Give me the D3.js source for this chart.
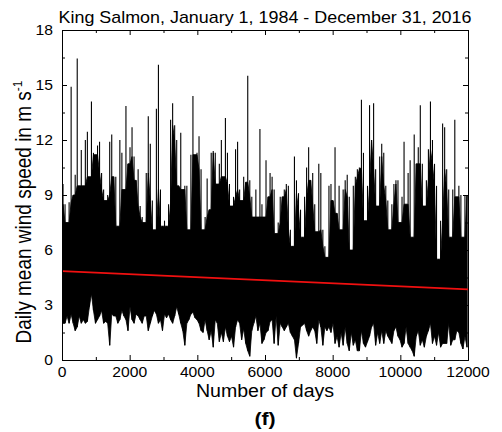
<!DOCTYPE html>
<html><head><meta charset="utf-8">
<script src="https://cdn.jsdelivr.net/npm/d3@7"></script>
<style>
body{margin:0;background:#fff}
text{font-family:"Liberation Sans",Arial,Helvetica,sans-serif;fill:#000}
</style>
</head><body>
<svg id="chart" width="502" height="432"></svg>
<script>
// ---- data (60-day bins: highest and lowest daily mean in each bin) ----
const binDays = d3.range(30, 12000, 60); // bin centres, number of days
const highValues = [
 9.6, 8.5, 7.5, 8.6, 14.9, 9.0, 10.1, 16.45, 9.5, 11.45,
 9.5, 12, 12.45, 10, 14.1, 11.3, 11.2, 11.7, 11.9, 10.2,
 9.3, 8.7, 9, 11.9, 12.3, 10, 10, 7.3, 12, 11.3,
 9.3, 13.85, 10.7, 11.6, 12.7, 11.1, 9.8, 10.4, 8.4, 7.8,
 7.5, 10.2, 13.3, 11.8, 8.7, 7.1, 13.7, 16.1, 9.3, 7.3,
 7.6, 7.3, 8.5, 13.1, 14, 12.8, 12, 9.5, 12.4, 9.3,
 9.5, 9.5, 7.1, 11.2, 14.4, 11.2, 11.3, 12.2, 10.4, 7.1,
 7.8, 9.9, 8.2, 11.3, 11.4, 11.3, 9.6, 10.7, 12, 10,
 13.2, 11.3, 9.6, 8.4, 8.9, 11.5, 11.9, 9.3, 8.7, 10,
 9.7, 15.5, 9.8, 8.9, 7.8, 9.3, 7.8, 12.6, 8.5, 7.8,
 10.9, 8.9, 10.2, 10, 9.3, 6.9, 7.5, 8.9, 8.9, 9.3,
 9.6, 9.5, 7.1, 6.2, 11.1, 9.8, 9.1, 8.2, 6.7, 8.9,
 10.5, 11.6, 9.8, 10.2, 8.5, 7, 10.7, 10.2, 7.1, 6.2,
 5.6, 9.5, 9.6, 8.7, 11.6, 8, 9.5, 7.1, 9.3, 9.8,
 10.1, 8.9, 6, 9.5, 10, 10.4, 10.5, 14.2, 11.3, 7.6,
 9.5, 13.9, 12, 14, 10.4, 8.4, 11.1, 11.8, 11.3, 9.5,
 8.7, 7.1, 8.5, 9.6, 9.8, 9.8, 7.5, 8.9, 11.9, 8.5,
 10.2, 10.9, 6.7, 12.3, 10.7, 11.6, 13.9, 10.7, 8.4, 9.8,
 11.5, 14.1, 12, 10.7, 9.5, 5.5, 7.6, 12.9, 12.7, 10.4,
 9.3, 6.7, 9.3, 13.1, 8.9, 9.5, 9, 6.7, 9, 9
];
const lowValues = [
 2.0, 2.0, 2.4, 2.0, 2.5, 2.0, 1.6, 1.8, 2.4, 2.0,
 2.2, 2.0, 2.1, 2.9, 3.6, 2.7, 2.0, 2.2, 2.4, 2.7,
 2.0, 2.1, 2.0, 0.8, 2.5, 2.4, 2.4, 2.0, 2.2, 2.7,
 2.4, 2.2, 1.6, 2.9, 2.2, 2.0, 2.5, 2.4, 2.2, 2.0,
 2.4, 2.4, 1.6, 2.0, 2.4, 2.7, 2.5, 2.0, 2.2, 1.6,
 2.5, 2.3, 2.5, 2.2, 2.0, 2.4, 2.9, 2.5, 2.0, 1.6,
 0.8, 2.0, 2.2, 2.5, 2.6, 2.3, 2.2, 2.0, 1.6, 1.5,
 2.2, 1.6, 1.1, 1.6, 0.7, 2.2, 2.0, 1.0, 1.5, 1.0,
 1.8, 1.3, 1.0, 1.3, 0.7, 1.8, 2.2, 2.0, 1.1, 1.7,
 0.9, 0.5, 0.2, 1.6, 2.0, 2.4, 1.6, 2.0, 0.9, 1.1,
 1.5, 1.6, 2.1, 2.2, 0.9, 2.4, 0.8, 2.0, 1.8, 1.6,
 1.8, 2.0, 1.5, 1.3, 1.1, 0.1, 0.9, 1.8, 1.9, 2.0,
 1.6, 1.3, 1.6, 1.8, 1.6, 0.9, 2.2, 1.8, 0.8, 1.8,
 1.6, 1.8, 1.5, 2.0, 0.9, 1.3, 0.7, 1.5, 0.8, 1.8,
 0.9, 0.5, 1.5, 0.8, 1.1, 0.5, 0.5, 1.6, 0.9, 0.7,
 1.0, 1.3, 1.8, 2.0, 0.8, 1.5, 0.9, 1.6, 0.9, 1.6,
 1.3, 1.1, 0.9, 1.6, 1.8, 1.3, 1.1, 0.7, 0.9, 1.8,
 0.9, 0.7, 0.5, 0.2, 1.3, 1.6, 0.8, 1.1, 0.7, 1.3,
 1.6, 2.0, 0.9, 1.3, 0.8, 1.5, 0.7, 0.9, 0.9, 0.9,
 2.0, 0.8, 1.1, 1.1, 1.6, 1.5, 0.9, 0.6, 1.3, 0.7
];
const trendDays = [0, 12000];
const trendValues = [4.85, 3.85];
const xTickValues = [0, 2000, 4000, 6000, 8000, 10000, 12000];
const xMinorTickValues = [1000, 3000, 5000, 7000, 9000, 11000];
const yTickValues = [0, 3, 6, 9, 12, 15, 18];
const yMinorTickValues = [1.5, 4.5, 7.5, 10.5, 13.5, 16.5];
const titleText = "King Salmon, January 1, 1984 - December 31, 2016";
const xAxisTitle = "Number of days";
const yAxisTitle = "Daily mean wind speed in m s";
const yAxisTitleSup = "-1";
const panelLabel = "(f)";

// ---- layout ----
const L = 62, R = 468, T = 30, B = 360;
const SX = 1.12; // horizontal text stretch of the original figure
const svg = d3.select("#chart");
const x = d3.scaleLinear().domain([0, 12000]).range([L, R]);
const y = d3.scaleLinear().domain([0, 18]).range([B, T]);

svg.append("defs").append("clipPath").attr("id", "plotclip")
  .append("rect").attr("x", L).attr("y", T).attr("width", R - L).attr("height", B - T);

const plot = svg.append("g").attr("clip-path", "url(#plotclip)");

// dense part of the trace: solid between the low values and the lower of neighbouring highs
const n = binDays.length;
const bins = binDays.map((d, i) => ({
  d, hi: highValues[i], lo: lowValues[i],
  core: Math.min(highValues[Math.max(0, i - 1)], highValues[i], highValues[Math.min(n - 1, i + 1)])
}));
plot.append("path").datum(bins)
  .attr("d", d3.area().x(b => x(b.d)).y0(b => y(b.lo)).y1(b => y(b.core)))
  .attr("fill", "#000").attr("stroke", "#000").attr("stroke-width", 0.8);
// individual daily excursions
plot.selectAll("line.spike").data(bins).join("line").attr("class", "spike")
  .attr("x1", b => x(b.d)).attr("x2", b => x(b.d))
  .attr("y1", b => y(b.lo)).attr("y2", b => y(b.hi))
  .attr("stroke", "#000").attr("stroke-width", 1.1);

// trend
const line = d3.line().x(p => x(p[0])).y(p => y(p[1]));
svg.append("path").datum(trendDays.map((d, i) => [d, trendValues[i]]))
  .attr("d", line).attr("fill", "none").attr("stroke", "#f01010").attr("stroke-width", 1.6);

// axes (ticks inward, mirrored)
function styleAxis(g) {
  g.selectAll("path.domain").attr("stroke", "#000").attr("stroke-width", 1);
  g.selectAll(".tick line").attr("stroke", "#000").attr("stroke-width", 1);
  g.selectAll(".tick text").remove();
}
const ax = [
  [d3.axisBottom(x), `translate(0,${B})`, xTickValues, 5],
  [d3.axisBottom(x), `translate(0,${B})`, xMinorTickValues, 3],
  [d3.axisTop(x), `translate(0,${T})`, xTickValues, 5],
  [d3.axisTop(x), `translate(0,${T})`, xMinorTickValues, 3],
  [d3.axisLeft(y), `translate(${L},0)`, yTickValues, 5],
  [d3.axisLeft(y), `translate(${L},0)`, yMinorTickValues, 3],
  [d3.axisRight(y), `translate(${R},0)`, yTickValues, 5],
  [d3.axisRight(y), `translate(${R},0)`, yMinorTickValues, 3]
];
ax.forEach(([a, tr, vals, len]) => {
  svg.append("g").attr("transform", tr)
    .call(a.tickValues(vals).tickSizeInner(-len).tickSizeOuter(0).tickFormat(""))
    .call(styleAxis);
});

function addText(px, py, str, size, anchor, weight, rot) {
  return svg.append("text")
    .attr("transform", `translate(${px},${py}) scale(${SX},1)` + (rot ? ` rotate(${rot})` : ""))
    .attr("text-anchor", anchor).attr("font-size", size).attr("font-weight", weight || "normal")
    .text(str);
}
xTickValues.forEach(v => addText(x(v), 377, String(v), 14, "middle"));
yTickValues.forEach(v => addText(L - 9, y(v) + 5, String(v), 14, "end"));
addText((L + R) / 2, 23, titleText, 16, "middle");
addText((L + R) / 2, 397, xAxisTitle, 17.5, "middle");
addText((L + R) / 2, 425, panelLabel, 19, "middle", "bold");
const yt = addText(31, 212, yAxisTitle, 19, "middle", "normal", -90);
yt.append("tspan").attr("dy", -8).attr("font-size", 12).text(yAxisTitleSup);
</script>
</body></html>
